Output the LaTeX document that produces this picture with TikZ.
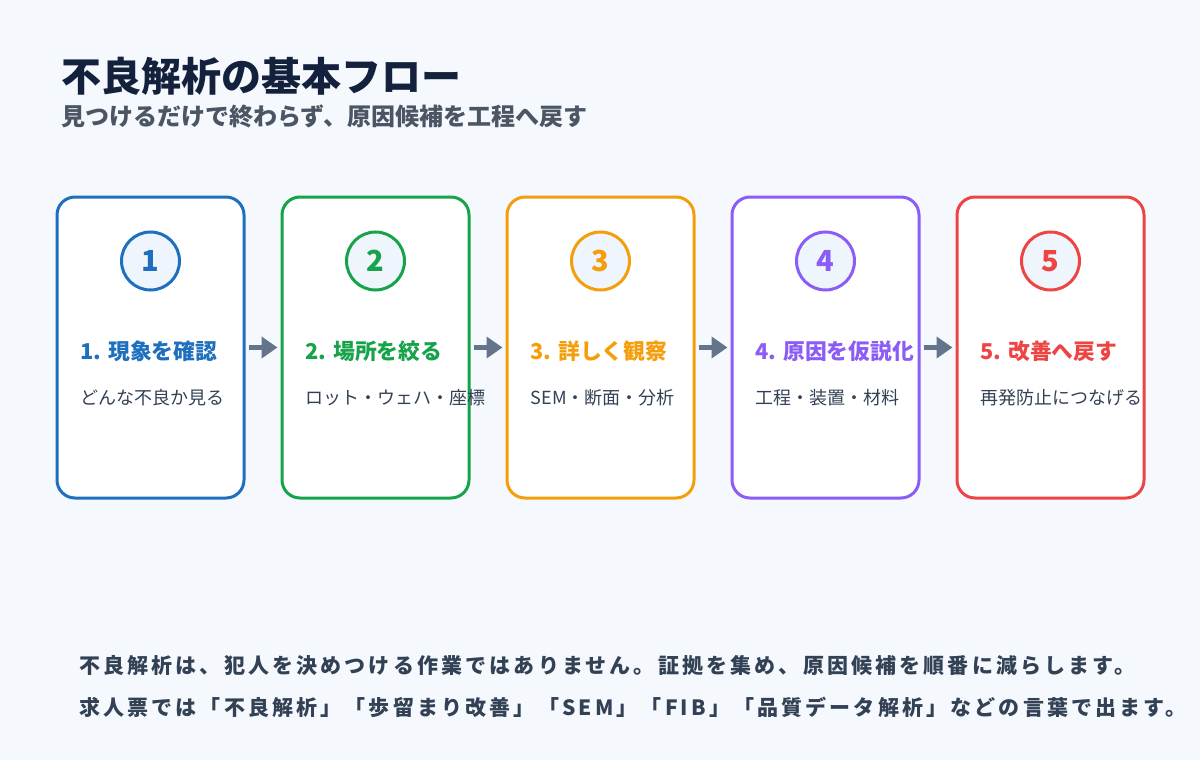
\documentclass[tikz,border=0pt]{standalone}
\usepackage{fontspec}
\setmainfont{Noto Sans CJK JP}
\usetikzlibrary{arrows.meta}
\definecolor{bgcol}{HTML}{F5F9FE}
\definecolor{navy}{HTML}{13213C}
\definecolor{greytext}{HTML}{4B5563}
\definecolor{bodytext}{HTML}{334155}
\definecolor{arrowcol}{HTML}{64748B}
\definecolor{discfill}{HTML}{EEF5FD}
\definecolor{stepA}{HTML}{1F6FBF}
\definecolor{stepB}{HTML}{16A34A}
\definecolor{stepC}{HTML}{F59E0B}
\definecolor{stepD}{HTML}{8B5CF6}
\definecolor{stepE}{HTML}{EF4444}
\tikzset{
  stepbox/.style={draw=#1, line width=3pt, rounded corners=18pt, fill=white,
    minimum width=187pt, minimum height=301pt},
  numdisc/.style={circle, draw=#1, line width=3pt, fill=discfill,
    minimum size=58pt, inner sep=0pt, text=#1, font=\fontsize{29}{30}\selectfont\bfseries},
  steptitle/.style={anchor=west, inner sep=0pt, text=#1, font=\fontsize{21.8}{23}\selectfont\bfseries},
  stepnote/.style={anchor=west, inner sep=0pt, text=bodytext, font=\fontsize{18}{20}\selectfont},
  remark/.style={anchor=west, inner sep=0pt, text=bodytext,
    font=\fontsize{21}{23}\selectfont\bfseries\addfontfeature{LetterSpace=15}},
  flowarrow/.style={-{Triangle[length=16pt,width=21pt]}, line width=5pt, draw=arrowcol,
    shorten <=3pt, shorten >=3pt}
}
\begin{document}
\begin{tikzpicture}[x=1pt,y=-1pt]
\useasboundingbox (0,0) rectangle (1200,760);
\fill[bgcol] (0,0) rectangle (1200,760);
% heading
\node[anchor=west, inner sep=0pt, text=navy, font=\fontsize{40}{42}\selectfont\bfseries] (head) at (61,76) {不良解析の基本フロー};
\node[anchor=west, inner sep=0pt, text=greytext, font=\fontsize{24}{26}\selectfont\bfseries] (subhead) at (61,116) {見つけるだけで終わらず、原因候補を工程へ戻す};
% steps
\foreach \i/\col/\ttl/\txt in {1/stepA/1. 現象を確認/どんな不良か見る,
    2/stepB/2. 場所を絞る/ロット・ウェハ・座標,
    3/stepC/3. 詳しく観察/SEM・断面・分析,
    4/stepD/4. 原因を仮説化/工程・装置・材料,
    5/stepE/5. 改善へ戻す/再発防止につなげる}{
  \pgfmathsetmacro{\cx}{150.5+225*(\i-1)}
  \node[stepbox=\col] (box\i) at (\cx,347.5) {};
  \node[numdisc=\col] (num\i) at (\cx,261) {\i};
  \node[steptitle=\col] (ttl\i) at (\cx-70,351) {\ttl};
  \node[stepnote] (txt\i) at (\cx-70,398) {\txt};
}
\foreach \i [evaluate=\i as \j using int(\i+1)] in {1,...,4}
  \draw[flowarrow] (box\i.east) -- (box\j.west);
% closing remark
\node[remark] (note1) at (79,666) {不良解析は、犯人を決めつける作業ではありません。証拠を集め、原因候補を順番に減らします。};
\node[remark] (note2) at (79,707) {求人票では「不良解析」「歩留まり改善」「SEM」「FIB」「品質データ解析」などの言葉で出ます。};
\end{tikzpicture}
\end{document}
